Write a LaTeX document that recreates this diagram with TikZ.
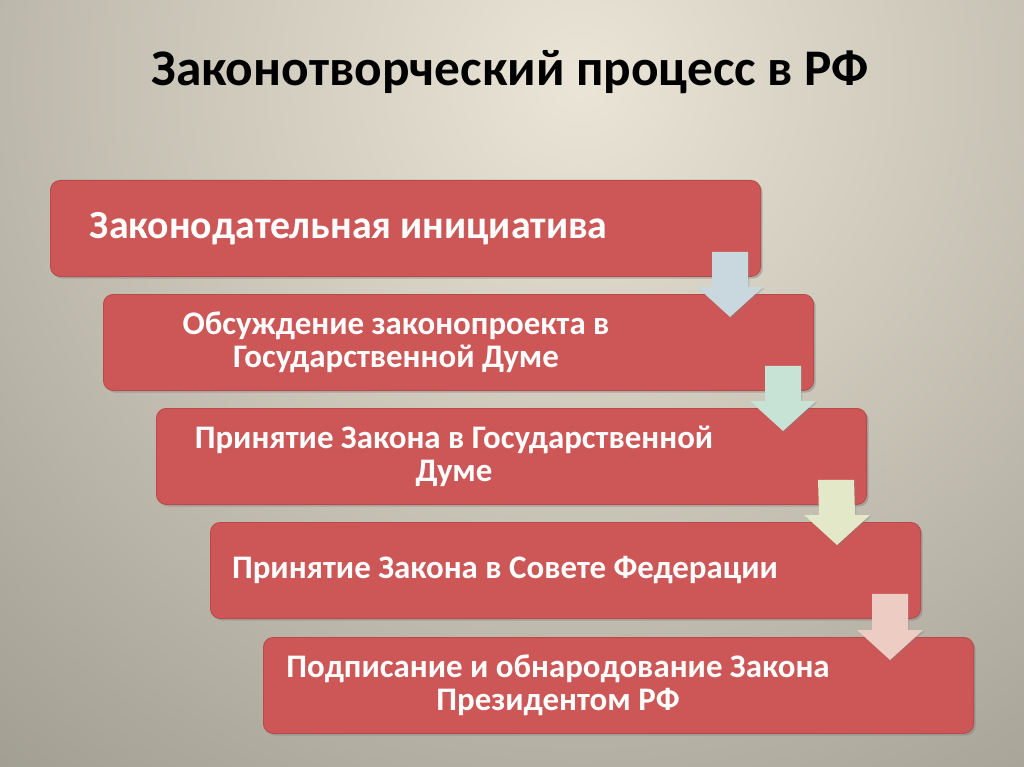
\documentclass[tikz,border=0pt]{standalone}
\usepackage{fontspec}
\setmainfont{Carlito}
\usetikzlibrary{calc,shadows}
\definecolor{bglight}{HTML}{EAE5D6}
\definecolor{bgdark}{HTML}{8E8B80}
\definecolor{boxred}{HTML}{CD5756}
\definecolor{boxedge}{HTML}{B84A4A}
\definecolor{arrowblue}{HTML}{C9D8DF}
\definecolor{arrowmint}{HTML}{C7E3D5}
\definecolor{arrowlime}{HTML}{E2E8C8}
\definecolor{arrowpink}{HTML}{EDCDC3}
\tikzset{
  stepbox/.style={draw=boxedge, line width=0.6pt, fill=boxred, rounded corners=7pt,
    minimum width=17.75cm, minimum height=2.4cm, anchor=north west, inner sep=0pt,
    drop shadow={opacity=0.45, shadow xshift=1.5pt, shadow yshift=-1.5pt}},
  steptext/.style={text=white, font=\bfseries\fontsize{23.4}{23.5}\selectfont, align=center},
}
% block arrow from one step down into the next
\newcommand\steparrow[3]{%
  \coordinate (top) at ($(#1.south east)+(-31,-25)$);
  \coordinate (base) at ($(#2.north east)+(-84,-7)$);
  \coordinate (tip) at ($(#2.north east)+(-84,23)$);
  \fill[#3, drop shadow={opacity=0.3, shadow xshift=1pt, shadow yshift=-1pt}]
    ($(top)+(-18,0)$) -- ($(top)+(18,0)$) -- ($(base)+(18,0)$) -- ($(base)+(33,0)$)
    -- (tip) -- ($(base)+(-33,0)$) -- ($(base)+(-18,0)$) -- cycle;
}

\begin{document}
\begin{tikzpicture}[x=0.025cm, y=-0.025cm]
\useasboundingbox (0,0) rectangle (1024,767);
\begin{scope}
\clip (0,0) rectangle (1024,767);
\shade[inner color=bglight, outer color=bgdark] (580,80) circle (1150);
\end{scope}

\node[font=\bfseries\fontsize{36.5}{40}\selectfont] (title) at (510,72) {Законотворческий процесс в РФ};

\node[stepbox] (b1) at (50,180) {};
\node[stepbox] (b2) at (103,294) {};
\node[stepbox] (b3) at (156,408) {};
\node[stepbox] (b4) at (210,522) {};
\node[stepbox] (b5) at (263,637) {};

\node[steptext, font=\bfseries\fontsize{28.3}{32}\selectfont, anchor=west] (t1) at ($(b1.west)+(35,0)$) {Законодательная инициатива};
\node[steptext] (t2) at ($(b2.west)+(293,0)$) {Обсуждение законопроекта в\\ Государственной Думе};
\node[steptext] (t3) at ($(b3.west)+(298,0)$) {Принятие Закона в Государственной\\ Думе};
\node[steptext] (t4) at ($(b4.west)+(295,0)$) {Принятие Закона в Совете Федерации};
\node[steptext] (t5) at ($(b5.west)+(295,0)$) {Подписание и обнародование Закона\\ Президентом РФ};

\steparrow{b1}{b2}{arrowblue}
\steparrow{b2}{b3}{arrowmint}
\steparrow{b3}{b4}{arrowlime}
\steparrow{b4}{b5}{arrowpink}
\end{tikzpicture}
\end{document}
